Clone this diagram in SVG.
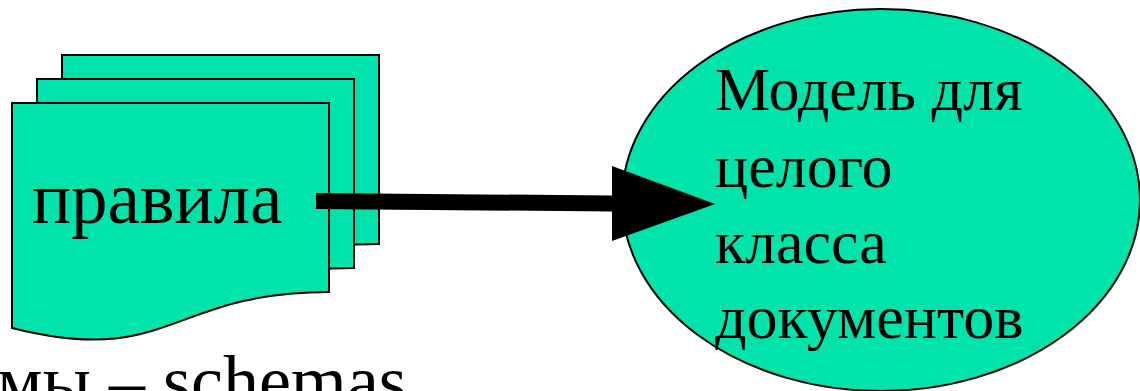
<svg xmlns="http://www.w3.org/2000/svg" width="1140" height="391" viewBox="0 0 1140 391">
  <style>
    .shape { fill: #00E3AA; stroke: #000; stroke-width: 2; }
    .label { font-family: "Liberation Serif", "Times New Roman", serif; fill: #000; }
  </style>
  <defs>
    <!-- single page with a wavy bottom edge -->
    <path id="page" d="M0,0 H317 V189 C158,189 158,265 0,225 Z"/>
  </defs>
  <rect width="1140" height="391" fill="#fff"/>

  <!-- stack of rule pages -->
  <g id="rules">
    <use href="#page" class="shape" transform="translate(62,55)"/>
    <use href="#page" class="shape" transform="translate(37,79)"/>
    <use href="#page" class="shape" transform="translate(12,103)"/>
    <text class="label" x="32" y="223" font-size="73">правила</text>
  </g>

  <!-- document class model -->
  <g id="model">
    <ellipse class="shape" cx="881" cy="200" rx="259" ry="191"/>
    <g class="label" font-size="62">
      <text x="715" y="110">Модель для</text>
      <text x="715" y="187">целого</text>
      <text x="715" y="263">класса</text>
      <text x="715" y="338">документов</text>
    </g>
  </g>

  <!-- connector -->
  <g id="connectors">
    <path d="M316,193 L612,195.5 L612,211.5 L316,209 Z" fill="#000"/>
    <polygon points="612,166 715,204 612,241" fill="#000"/>
  </g>

  <!-- caption below -->
  <text class="label" x="-3" y="405" font-size="72">мы – schemas</text>
</svg>
